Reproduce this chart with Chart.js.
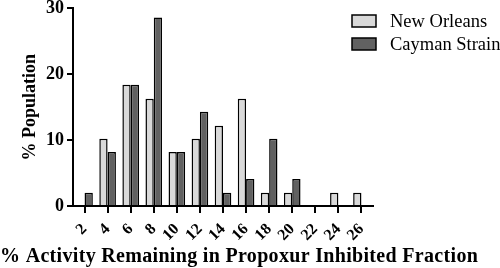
<!DOCTYPE html>
<html>
<head>
<meta charset="utf-8">
<script src="https://cdn.jsdelivr.net/npm/chart.js@4/dist/chart.umd.min.js"></script>
<style>
html,body{margin:0;padding:0;background:#fff;}
#wrap{width:500px;height:268px;position:relative;}
</style>
</head>
<body>
<div id="wrap"><canvas id="c" width="500" height="268"></canvas></div>
<script>
const categories = ['2','4','6','8','10','12','14','16','18','20','22','24','26'];
const newOrleans = [0, 10.2, 18.4, 16.3, 8.2, 10.2, 12.2, 16.3, 2.0, 2.0, 0, 2.0, 2.0];
const cayman     = [2.0, 8.2, 18.4, 28.6, 8.2, 14.3, 2.0, 4.1, 10.2, 4.1, 0, 0, 0];
const seriesNames = ['New Orleans', 'Cayman Strain'];
const yTicks = [0, 10, 20, 30];
const xTitle = '% Activity Remaining in Propoxur Inhibited Fraction';
const yTitle = '% Population';

const serif = "'Liberation Serif', 'Times New Roman', serif";

const overlayPlugin = {
  id: 'overlay',
  afterDraw(chart) {
    const ctx = chart.ctx;
    ctx.save();
    chart.data.datasets.forEach((ds, i) => {
      const x = 352, y = 15 + i * 23;
      ctx.fillStyle = ds.backgroundColor;
      ctx.fillRect(x, y, 24, 12);
      ctx.strokeStyle = '#000';
      ctx.lineWidth = 1.5;
      ctx.strokeRect(x, y, 24, 12);
      ctx.fillStyle = '#000';
      ctx.font = "18.5px " + serif;
      ctx.textBaseline = 'middle';
      ctx.textAlign = 'left';
      ctx.fillText(ds.label, 390, y + 7);
    });
    // x axis title, spread to the reference's width
    ctx.fillStyle = '#000';
    ctx.font = "bold 20px " + serif;
    ctx.letterSpacing = '0px';
    const w = ctx.measureText(xTitle).width;
    const extra = Math.max(0, (478 - w) / (xTitle.length - 1));
    ctx.letterSpacing = extra.toFixed(2) + 'px';
    ctx.textBaseline = 'middle';
    ctx.textAlign = 'left';
    ctx.fillText(xTitle, 0, 257);
    ctx.restore();
  }
};

new Chart(document.getElementById('c'), {
  type: 'bar',
  data: {
    labels: categories,
    datasets: [
      { label: seriesNames[0], data: newOrleans, backgroundColor: '#d9d9d9', borderColor: '#000', borderWidth: 1.5, borderSkipped: 'bottom' },
      { label: seriesNames[1], data: cayman, backgroundColor: '#616161', borderColor: '#000', borderWidth: 1.5, borderSkipped: 'bottom' }
    ]
  },
  options: {
    responsive: false,
    animation: false,
    layout: { padding: { top: 6, right: 127, left: 0, bottom: 22 } },
    datasets: { bar: { categoryPercentage: 0.72, barPercentage: 1.0 } },
    plugins: {
      legend: { display: false },
      tooltip: { enabled: false },
      title: { display: false }
    },
    scales: {
      x: {
        offset: true,
        grid: { display: true, drawOnChartArea: false, offset: false, color: '#000', lineWidth: 2, tickLength: 7 },
        border: { display: true, color: '#000', width: 2 },
        ticks: {
          color: '#000',
          font: { family: serif, size: 16, weight: 'bold', lineHeight: 1.0 },
          maxRotation: 45, minRotation: 45, autoSkip: false, padding: 8
        },
        afterFit(s) { s.height = 40; }
      },
      y: {
        min: 0, max: 30,
        afterBuildTicks(s) { s.ticks = yTicks.map(v => ({ value: v })); },
        grid: { display: true, drawOnChartArea: false, color: '#000', lineWidth: 2, tickLength: 6 },
        border: { display: true, color: '#000', width: 2 },
        ticks: { color: '#000', font: { family: serif, size: 18, weight: 'bold', lineHeight: 0.6 }, padding: 3 },
        title: {
          display: true,
          text: yTitle,
          color: '#000',
          font: { family: serif, size: 18, weight: 'bold' },
          padding: { top: 20, bottom: 0 }
        },
        afterFit(s) { s.width = 73; }
      }
    }
  },
  plugins: [overlayPlugin]
});
</script>
</body>
</html>
